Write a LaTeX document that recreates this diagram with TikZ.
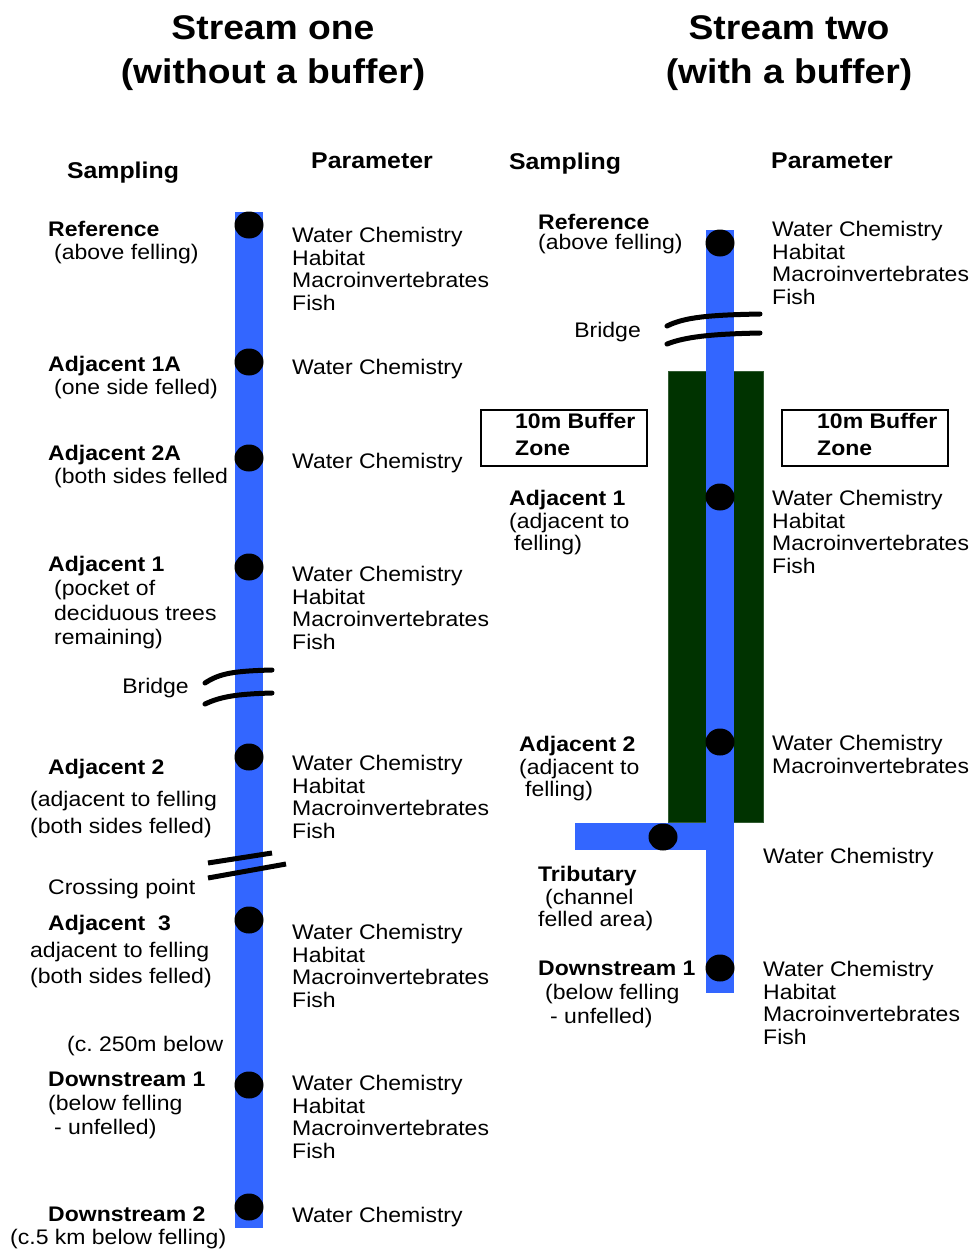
\documentclass[tikz,border=0pt]{standalone}
\usepackage{fontspec}
\setmainfont{Liberation Sans}[FakeStretch=1.09]
\definecolor{streamblue}{HTML}{3366FF}
\definecolor{buffergreen}{HTML}{003300}
\begin{document}
\begin{tikzpicture}[x=1pt, y=-1pt,
  txt/.style={anchor=north west, inner sep=0pt, align=left, yshift=2pt, font=\fontsize{21.1}{22.7}\selectfont},
  head/.style={anchor=north, inner sep=0pt, font=\fontsize{22.8}{24}\selectfont\bfseries},
  ttl/.style={anchor=north, inner sep=0pt, align=center, font=\fontsize{34.2}{44}\selectfont\bfseries},
  site/.style={fill=black},
  bridge/.style={line width=5pt, line cap=round}]
  % page: 970 x 1250 px, 1 px = 1 pt, y pointing down
  \useasboundingbox (0,0) rectangle (970,1250);

  % Titles and column heads
  \node[ttl] (titleOne) at (273,15) {Stream one\\(without a buffer)};
  \node[ttl] (titleTwo) at (789,15) {Stream two\\(with a buffer)};
  \node[head] (sampOne) at (123,162) {Sampling};
  \node[head] (parOne) at (372,153) {Parameter};
  \node[head] (sampTwo) at (565,153) {Sampling};
  \node[head] (parTwo) at (832,153) {Parameter};

  % ---------------- Stream one ----------------
  \fill[streamblue] (235,212) rectangle (263,1228);
  \foreach \y in {225,362,458,567,757,920,1085,1207} {
    \fill[site] (249,\y) circle [x radius=14.5pt, y radius=13.5pt];
  }

  % Bridge and crossing point
  \draw[bridge] (205,683) .. controls (220,673) and (235,671) .. (272,670);
  \draw[bridge] (205,704) .. controls (220,697) and (235,694) .. (272,693);
  \draw[line width=5pt] (208,863) -- (272,853);
  \draw[line width=5pt] (208,878) -- (286,864);

  % Sampling sites
  \node[txt] (refOne) at (48,223) {\textbf{Reference}\\\hspace*{6pt}(above felling)};
  \node[txt] (adjOneA) at (48,358) {\textbf{Adjacent 1A}\\\hspace*{6pt}(one side felled)};
  \node[txt] (adjTwoA) at (48,447) {\textbf{Adjacent 2A}\\\hspace*{6pt}(both sides felled};
  \node[txt, font=\fontsize{21.1}{24.5}\selectfont] (adjOne) at (48,558)
    {\textbf{Adjacent 1}\\\hspace*{6pt}(pocket of\\\hspace*{6pt}deciduous trees\\\hspace*{6pt}remaining)};
  \node[txt, anchor=north east] (bridgeOne) at (189,680) {Bridge};
  \node[txt] (adjTwo) at (48,761) {\textbf{Adjacent 2}};
  \node[txt, font=\fontsize{21.1}{27}\selectfont] (adjTwoNote) at (30,793)
    {(adjacent to felling\\(both sides felled)};
  \node[txt] (crossing) at (48,881) {Crossing point};
  \node[txt] (adjThree) at (48,917) {\textbf{Adjacent\ \ 3}};
  \node[txt, font=\fontsize{21.1}{26}\selectfont] (adjThreeNote) at (30,944)
    {adjacent to felling\\(both sides felled)};
  \node[txt] (below250) at (67,1038) {(c.\ 250m below};
  \node[txt, font=\fontsize{21.1}{24}\selectfont] (downOne) at (48,1074)
    {\textbf{Downstream 1}\\(below felling\\\hspace*{6pt}- unfelled)};
  \node[txt] (downTwo) at (48,1209) {\textbf{Downstream 2}};
  \node[txt] (downTwoNote) at (10,1231) {(c.5 km below felling)};

  % Parameters
  \node[txt] (parRefOne) at (292,229) {Water Chemistry\\Habitat\\Macroinvertebrates\\Fish};
  \node[txt] (parAdjOneA) at (292,361) {Water Chemistry};
  \node[txt] (parAdjTwoA) at (292,455) {Water Chemistry};
  \node[txt] (parAdjOne) at (292,568) {Water Chemistry\\Habitat\\Macroinvertebrates\\Fish};
  \node[txt] (parAdjTwo) at (292,757) {Water Chemistry\\Habitat\\Macroinvertebrates\\Fish};
  \node[txt] (parAdjThree) at (292,926) {Water Chemistry\\Habitat\\Macroinvertebrates\\Fish};
  \node[txt] (parDownOne) at (292,1077) {Water Chemistry\\Habitat\\Macroinvertebrates\\Fish};
  \node[txt] (parDownTwo) at (292,1209) {Water Chemistry};

  % ---------------- Stream two ----------------
  % Buffer zone, main channel and tributary
  \filldraw[fill=buffergreen, draw=buffergreen!80!white] (668,371) rectangle (763,822);
  \fill[streamblue] (706,230) rectangle (734,993);
  \fill[streamblue] (575,823) rectangle (706,850);
  \foreach \p in {(720,243),(720,497),(720,742),(720,968),(663,837)} {
    \fill[site] \p circle [x radius=14.5pt, y radius=13.5pt];
  }

  % Bridge
  \draw[bridge] (667,326) .. controls (685,317) and (710,315) .. (760,314);
  \draw[bridge] (667,344) .. controls (685,337) and (710,334) .. (760,333);
  \node[txt, anchor=north east] (bridgeTwo) at (641,324) {Bridge};

  % Buffer zone labels
  \draw[line width=1.2pt] (481,410) rectangle (647,466);
  \draw[line width=1.2pt] (782,410) rectangle (948,466);
  \node[txt, font=\fontsize{21.1}{27}\selectfont\bfseries] (bufLeft) at (515,415) {10m Buffer\\Zone};
  \node[txt, font=\fontsize{21.1}{27}\selectfont\bfseries] (bufRight) at (817,415) {10m Buffer\\Zone};

  % Sampling sites
  \node[txt] (refTwo) at (538,216) {\textbf{Reference}\\[-2.5pt](above felling)};
  \node[txt] (adjOneTwo) at (509,492) {\textbf{Adjacent 1}\\(adjacent to\\\hspace*{5pt}felling)};
  \node[txt] (adjTwoTwo) at (519,738) {\textbf{Adjacent 2}\\(adjacent to\\\hspace*{6pt}felling)};
  \node[txt] (tribTwo) at (538,868) {\textbf{Tributary}\\\hspace*{7pt}(channel\\felled area)};
  \node[txt, font=\fontsize{21.1}{24}\selectfont] (downTwoTwo) at (538,963)
    {\textbf{Downstream 1}\\\hspace*{7pt}(below felling\\\hspace*{12pt}- unfelled)};

  % Parameters
  \node[txt] (parRefTwo) at (772,223) {Water Chemistry\\Habitat\\Macroinvertebrates\\Fish};
  \node[txt] (parAdjOneTwo) at (772,492) {Water Chemistry\\Habitat\\Macroinvertebrates\\Fish};
  \node[txt] (parAdjTwoTwo) at (772,737) {Water Chemistry\\Macroinvertebrates};
  \node[txt] (parTrib) at (763,850) {Water Chemistry};
  \node[txt] (parDownTwo2) at (763,963) {Water Chemistry\\Habitat\\Macroinvertebrates\\Fish};
\end{tikzpicture}
\end{document}
